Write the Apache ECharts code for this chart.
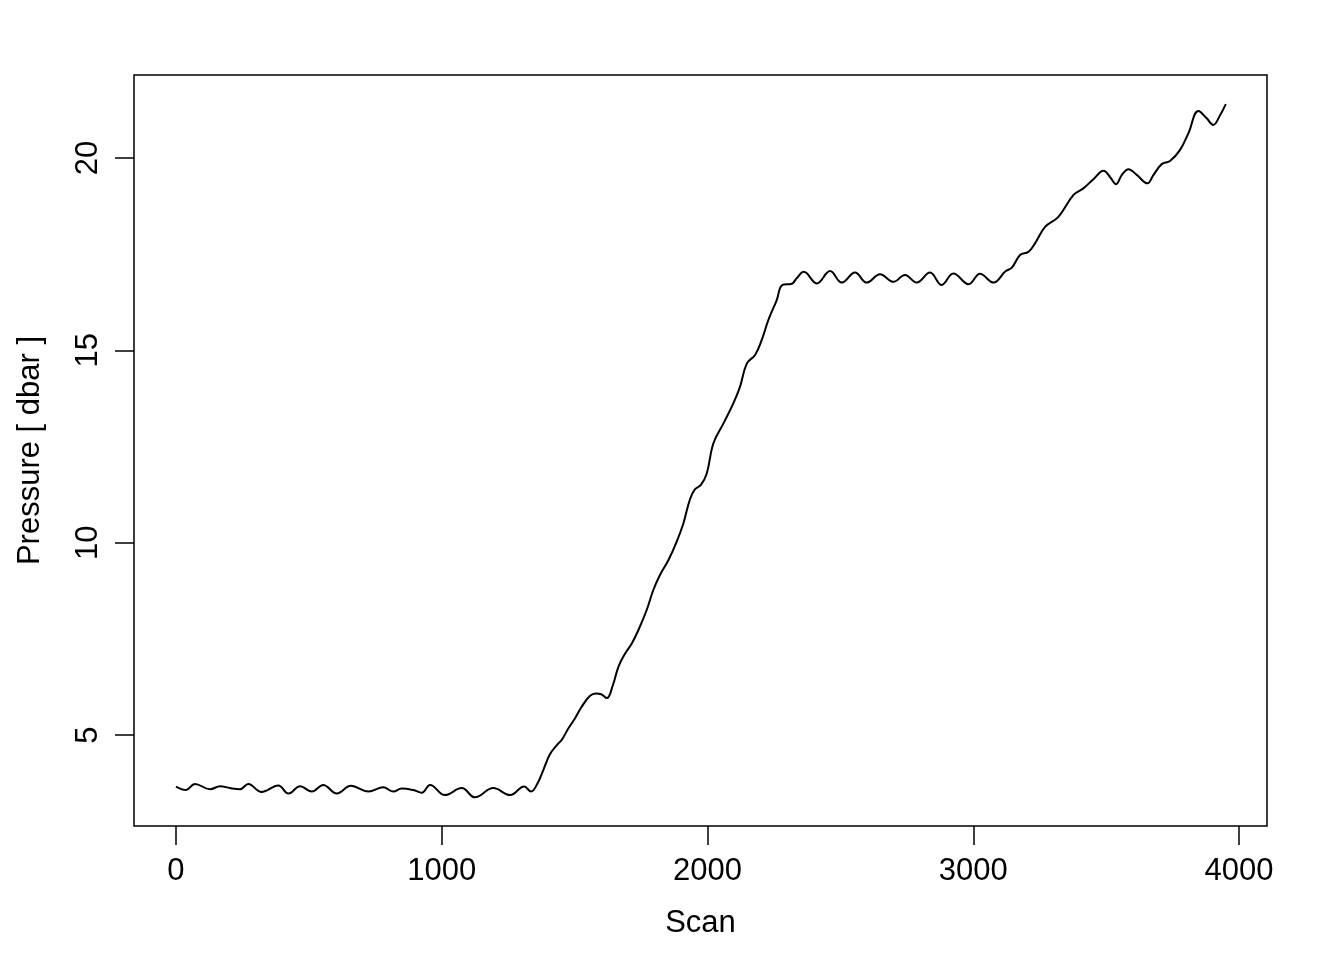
<!DOCTYPE html>
<html>
<head>
<meta charset="utf-8">
<script src="https://cdn.jsdelivr.net/npm/echarts@6/dist/echarts.min.js"></script>
<style>html,body{margin:0;padding:0;background:#fff}#c{width:1344px;height:960px}</style>
</head>
<body>
<div id="c"></div>
<script>
const scans = [0,38,71,128,166,203,241,272,322,385,423,467,511,554,605,658,724,780,818,849,893,925,956,1012,1075,1125,1194,1257,1310,1336,1360,1382,1407,1433,1451,1476,1501,1527,1558,1580,1600,1621,1644,1665,1690,1715,1740,1771,1796,1821,1853,1884,1909,1934,1953,1975,1997,2022,2060,2097,2122,2148,2179,2204,2229,2260,2282,2317,2335,2362,2411,2461,2505,2555,2599,2649,2699,2743,2787,2837,2881,2925,2982,3025,3076,3120,3145,3176,3207,3232,3270,3320,3377,3414,3452,3490,3515,3537,3559,3584,3615,3655,3678,3709,3740,3778,3809,3847,3878,3903,3929,3950];
const pressure = [3.66,3.57,3.73,3.59,3.67,3.62,3.59,3.73,3.52,3.69,3.48,3.67,3.53,3.70,3.48,3.68,3.53,3.64,3.53,3.61,3.57,3.50,3.70,3.44,3.62,3.38,3.62,3.44,3.66,3.53,3.74,4.09,4.50,4.74,4.87,5.17,5.43,5.74,6.02,6.08,6.06,5.96,6.30,6.78,7.12,7.38,7.73,8.25,8.77,9.16,9.55,10.03,10.50,11.13,11.39,11.50,11.80,12.58,13.10,13.62,14.05,14.66,14.88,15.27,15.79,16.30,16.70,16.73,16.87,17.04,16.74,17.06,16.76,17.02,16.76,16.98,16.78,16.96,16.76,17.02,16.70,17.00,16.72,16.99,16.76,17.05,17.15,17.48,17.56,17.78,18.21,18.47,19.04,19.21,19.45,19.67,19.50,19.32,19.56,19.71,19.56,19.34,19.56,19.84,19.92,20.21,20.64,21.22,21.03,20.86,21.12,21.40];
const xTicks = [0,1000,2000,3000,4000];
const yTicks = [5,10,15,20];
const xTitle = 'Scan';
const yTitle = 'Pressure [ dbar ]';

const FONT = 'Liberation Sans';
const chart = echarts.init(document.getElementById('c'), null, {renderer:'canvas'});
chart.setOption({
  animation:false,
  backgroundColor:'#fff',
  grid:{left:134,right:77,top:75,bottom:134,show:true,borderColor:'#000',borderWidth:1.5,backgroundColor:'transparent'},
  xAxis:{
    type:'value',min:-158,max:4105,
    splitLine:{show:false},
    axisLine:{show:false,onZero:false},
    axisTick:{show:true,customValues:xTicks,length:19,inside:false,lineStyle:{color:'#000',width:1.5}},
    axisLabel:{customValues:xTicks,margin:30,color:'#000',fontSize:31,fontFamily:FONT,formatter:v=>String(v)},
    name:xTitle,nameLocation:'middle',nameGap:82,
    nameTextStyle:{color:'#000',fontSize:31,fontFamily:FONT}
  },
  yAxis:{
    type:'value',min:2.635,max:22.157,
    splitLine:{show:false},
    axisLine:{show:false,onZero:false},
    axisTick:{show:true,customValues:yTicks,length:19,inside:false,lineStyle:{color:'#000',width:1.5}},
    axisLabel:{customValues:yTicks,margin:30,rotate:90,color:'#000',fontSize:31,fontFamily:FONT,formatter:v=>String(v)},
    name:yTitle,nameLocation:'middle',nameGap:88,nameRotate:90,
    nameTextStyle:{color:'#000',fontSize:31,fontFamily:FONT}
  },
  series:[{
    type:'line',
    data:scans.map((s,i)=>[s,pressure[i]]),
    smooth:0.4,
    showSymbol:false,
    lineStyle:{color:'#000',width:2},
    clip:true
  }]
});
</script>
</body>
</html>
